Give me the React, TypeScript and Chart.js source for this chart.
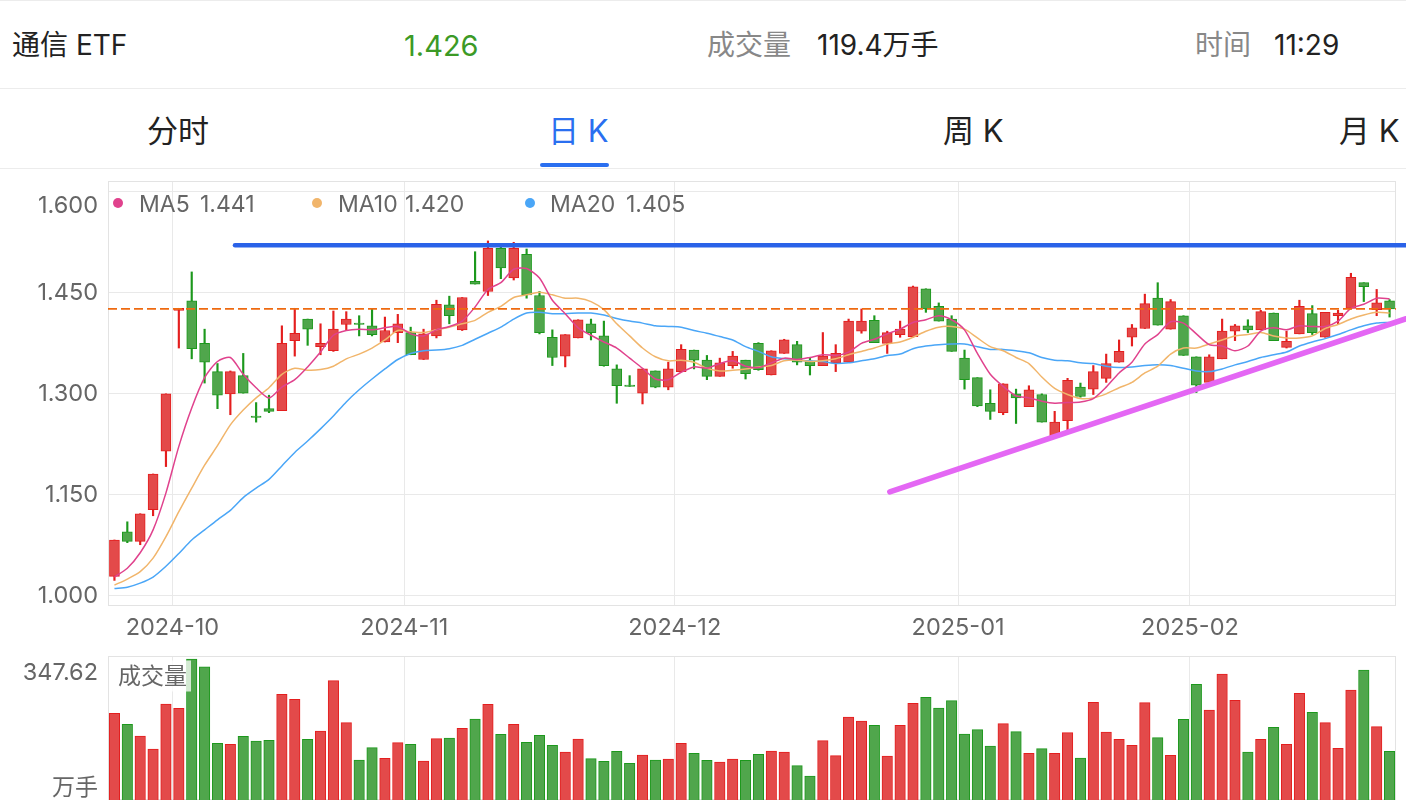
import React, { useEffect, useRef } from 'react';
import { Chart, registerables } from 'chart.js';

Chart.register(...registerables);

const FONT = 'Inter, "Noto Sans CJK SC", sans-serif';

const DATES = [
  '2024-09-24','2024-09-25','2024-09-26','2024-09-27','2024-09-30',
  '2024-10-08','2024-10-09','2024-10-10','2024-10-11','2024-10-14','2024-10-15','2024-10-16','2024-10-17','2024-10-18',
  '2024-10-21','2024-10-22','2024-10-23','2024-10-24','2024-10-25','2024-10-28','2024-10-29','2024-10-30','2024-10-31',
  '2024-11-01','2024-11-04','2024-11-05','2024-11-06','2024-11-07','2024-11-08','2024-11-11','2024-11-12','2024-11-13',
  '2024-11-14','2024-11-15','2024-11-18','2024-11-19','2024-11-20','2024-11-21','2024-11-22','2024-11-25','2024-11-26',
  '2024-11-27','2024-11-28','2024-11-29',
  '2024-12-02','2024-12-03','2024-12-04','2024-12-05','2024-12-06','2024-12-09','2024-12-10','2024-12-11','2024-12-12',
  '2024-12-13','2024-12-16','2024-12-17','2024-12-18','2024-12-19','2024-12-20','2024-12-23','2024-12-24','2024-12-25',
  '2024-12-26','2024-12-27','2024-12-30','2024-12-31',
  '2025-01-02','2025-01-03','2025-01-06','2025-01-07','2025-01-08','2025-01-09','2025-01-10','2025-01-13','2025-01-14',
  '2025-01-15','2025-01-16','2025-01-17','2025-01-20','2025-01-21','2025-01-22','2025-01-23','2025-01-24','2025-01-27',
  '2025-02-05','2025-02-06','2025-02-07','2025-02-10','2025-02-11','2025-02-12','2025-02-13','2025-02-14','2025-02-17',
  '2025-02-18','2025-02-19','2025-02-20','2025-02-21','2025-02-24','2025-02-25','2025-02-26',
];

const OPEN = [
  1.029,1.095,1.081,1.128,1.215,1.424,1.438,1.375,1.333,1.300,
  1.327,1.267,1.278,1.275,1.379,1.411,1.370,1.364,1.403,1.405,
  1.401,1.377,1.391,1.391,1.351,1.386,1.432,1.395,1.467,1.452,
  1.516,1.472,1.507,1.446,1.384,1.356,1.383,1.404,1.386,1.337,
  1.313,1.301,1.334,1.310,1.333,1.365,1.350,1.326,1.342,1.350,
  1.375,1.328,1.360,1.373,1.348,1.342,1.346,1.347,1.393,1.409,
  1.375,1.388,1.385,1.456,1.430,1.411,1.353,1.324,1.286,1.272,
  1.300,1.281,1.299,1.238,1.260,1.310,1.307,1.323,1.347,1.384,
  1.397,1.442,1.396,1.416,1.355,1.317,1.352,1.393,1.401,1.395,
  1.420,1.369,1.389,1.419,1.384,1.416,1.427,1.465,1.425,1.438,
];
const CLOSE = [
  1.083,1.081,1.122,1.181,1.300,1.427,1.367,1.347,1.298,1.333,
  1.301,1.265,1.274,1.375,1.390,1.396,1.375,1.396,1.411,1.403,
  1.388,1.394,1.404,1.358,1.389,1.433,1.416,1.443,1.463,1.516,
  1.487,1.516,1.447,1.391,1.354,1.388,1.410,1.391,1.342,1.312,
  1.311,1.337,1.310,1.337,1.366,1.350,1.326,1.346,1.356,1.330,
  1.336,1.364,1.380,1.347,1.342,1.356,1.360,1.408,1.408,1.376,
  1.391,1.396,1.459,1.426,1.408,1.363,1.321,1.282,1.274,1.315,
  1.294,1.306,1.258,1.258,1.320,1.296,1.333,1.345,1.363,1.398,
  1.434,1.402,1.437,1.357,1.313,1.355,1.393,1.401,1.395,1.422,
  1.379,1.378,1.430,1.391,1.421,1.420,1.473,1.459,1.435,1.426,
];
const HIGH = [
  1.083,1.110,1.122,1.181,1.300,1.427,1.481,1.396,1.345,1.334,
  1.360,1.287,1.298,1.401,1.427,1.411,1.404,1.423,1.422,1.416,
  1.426,1.414,1.418,1.399,1.396,1.439,1.445,1.443,1.511,1.527,
  1.518,1.525,1.515,1.452,1.395,1.388,1.410,1.411,1.408,1.343,
  1.327,1.337,1.334,1.347,1.373,1.365,1.357,1.353,1.363,1.350,
  1.376,1.364,1.381,1.378,1.353,1.391,1.373,1.411,1.426,1.416,
  1.393,1.408,1.460,1.456,1.435,1.416,1.365,1.324,1.306,1.315,
  1.307,1.312,1.300,1.274,1.323,1.316,1.342,1.359,1.380,1.403,
  1.448,1.465,1.440,1.416,1.355,1.358,1.411,1.403,1.410,1.424,
  1.420,1.393,1.439,1.431,1.421,1.424,1.479,1.465,1.455,1.440,
];
const LOW = [
  1.023,1.079,1.076,1.119,1.192,1.368,1.352,1.316,1.278,1.269,
  1.301,1.258,1.272,1.275,1.356,1.372,1.358,1.363,1.395,1.386,
  1.386,1.377,1.376,1.358,1.351,1.383,1.404,1.394,1.463,1.446,
  1.471,1.469,1.442,1.389,1.342,1.340,1.383,1.380,1.341,1.286,
  1.311,1.285,1.309,1.306,1.333,1.337,1.321,1.326,1.338,1.322,
  1.335,1.328,1.360,1.343,1.328,1.342,1.333,1.347,1.390,1.376,
  1.360,1.384,1.384,1.421,1.408,1.363,1.307,1.281,1.262,1.269,
  1.256,1.281,1.258,1.236,1.246,1.295,1.299,1.317,1.347,1.371,
  1.397,1.402,1.396,1.357,1.302,1.317,1.352,1.379,1.391,1.395,
  1.379,1.368,1.389,1.388,1.384,1.403,1.426,1.437,1.416,1.414,
];

const VOLUME = [
  213.7,186.5,157.8,125.7,236.6,226.0,347.62,328.6,139.7,137.2,
  156.9,145.4,147.0,260.5,248.1,149.5,170.1,294.2,190.6,98.6,
  129.0,102.7,141.3,137.2,96.1,151.2,152.8,176.7,199.7,235.8,
  161.9,186.5,142.1,159.4,134.8,118.3,150.4,101.9,95.3,120.0,
  90.4,110.9,98.6,101.1,139.7,115.0,97.8,93.7,101.1,97.8,
  112.6,120.8,118.3,84.6,59.2,146.3,109.3,204.6,194.7,184.1,
  108.5,184.1,238.3,253.1,226.8,244.9,162.7,173.4,133.1,188.2,
  168.4,115.0,126.5,115.0,166.0,103.5,240.7,167.6,149.5,134.8,
  239.9,153.7,110.1,198.9,285.1,221.9,310.6,245.7,118.3,149.5,
  179.1,137.2,262.9,216.1,190.6,127.3,271.2,320.5,180.8,120.0,
];

const MA5 = [
  1.028,1.041,1.064,1.098,1.153,1.222,1.279,1.324,1.348,1.354,
  1.329,1.309,1.294,1.310,1.321,1.340,1.362,1.387,1.394,1.396,
  1.395,1.398,1.400,1.389,1.386,1.395,1.400,1.408,1.429,1.455,
  1.465,1.485,1.486,1.472,1.439,1.419,1.398,1.387,1.377,1.368,
  1.353,1.338,1.322,1.321,1.332,1.340,1.338,1.345,1.349,1.341,
  1.339,1.346,1.353,1.351,1.354,1.358,1.357,1.362,1.375,1.381,
  1.389,1.396,1.406,1.410,1.416,1.410,1.395,1.360,1.329,1.311,
  1.297,1.294,1.289,1.286,1.287,1.288,1.293,1.310,1.331,1.347,
  1.374,1.388,1.407,1.405,1.389,1.373,1.371,1.364,1.371,1.393,
  1.398,1.395,1.401,1.400,1.400,1.408,1.427,1.433,1.442,1.441,
];
const MA10 = [
  1.016,1.025,1.036,1.056,1.088,1.125,1.160,1.194,1.223,1.254,
  1.276,1.294,1.309,1.329,1.338,1.335,1.336,1.341,1.352,1.359,
  1.368,1.380,1.394,1.392,1.391,1.395,1.399,1.404,1.409,1.421,
  1.430,1.443,1.447,1.451,1.447,1.442,1.442,1.437,1.425,1.404,
  1.386,1.368,1.355,1.349,1.350,1.347,1.338,1.334,1.335,1.337,
  1.340,1.342,1.349,1.350,1.348,1.349,1.352,1.358,1.363,1.368,
  1.374,1.377,1.384,1.393,1.399,1.400,1.396,1.383,1.370,1.364,
  1.354,1.345,1.325,1.308,1.299,1.293,1.294,1.300,1.309,1.317,
  1.331,1.341,1.359,1.368,1.368,1.374,1.380,1.386,1.388,1.391,
  1.386,1.383,1.383,1.386,1.397,1.403,1.411,1.417,1.421,1.420,
];
const MA20 = [
  1.011,1.013,1.019,1.028,1.044,1.063,1.083,1.098,1.113,1.127,
  1.146,1.160,1.173,1.193,1.213,1.230,1.248,1.267,1.288,1.306,
  1.322,1.337,1.351,1.360,1.364,1.365,1.367,1.372,1.381,1.390,
  1.399,1.411,1.420,1.421,1.419,1.419,1.420,1.420,1.417,1.412,
  1.408,1.405,1.401,1.400,1.399,1.394,1.390,1.385,1.380,1.370,
  1.363,1.355,1.352,1.350,1.349,1.348,1.345,1.346,1.349,1.352,
  1.357,1.359,1.367,1.371,1.373,1.374,1.374,1.370,1.366,1.366,
  1.364,1.361,1.354,1.350,1.349,1.346,1.345,1.341,1.339,1.340,
  1.342,1.343,1.342,1.338,1.334,1.333,1.337,1.343,1.348,1.354,
  1.358,1.362,1.371,1.377,1.382,1.388,1.395,1.401,1.405,1.406,
];

const PRICE_TICKS = [1.0, 1.15, 1.3, 1.45, 1.6];
const PRICE_MIN = 0.985;
const PRICE_MAX = 1.616;
const VOLUME_MAX = 355;
const LAST_PRICE = 1.426;
const RESISTANCE_LINE = [{ x: 9.36, y: 1.5205 }, { x: 112, y: 1.5205 }];
const TREND_LINE = [{ x: 60.2, y: 1.1545 }, { x: 112, y: 1.4867 }];

const UP_FILL = '#e34a4a';
const UP_LINE = '#e41e1e';
const DOWN_FILL = '#50a64c';
const DOWN_LINE = '#1c981c';
const GRID = '#e9e9e9';
const AXIS_FONT = 23.5;

const isUp = (i: number) => CLOSE[i] >= OPEN[i];
const MONTH_TICKS = DATES.map((d, i) => (i > 0 && d.slice(0, 7) !== DATES[i - 1].slice(0, 7) ? i - 0.5 : null)).filter(
  (v) => v !== null
) as number[];

const frame = {
  id: 'frame',
  beforeDatasetsDraw(chart: any) {
    const { ctx, chartArea: a } = chart;
    ctx.save();
    ctx.strokeStyle = '#e3e3e3';
    ctx.lineWidth = 1;
    ctx.strokeRect(Math.round(a.left) + 0.5, Math.round(a.top) + 0.5, Math.round(a.right - a.left) - 1, Math.round(a.bottom - a.top) - 1);
    ctx.restore();
  },
};

const noPad = (s: any) => {
  s.paddingTop = 0;
  s.paddingBottom = 0;
  s.paddingLeft = 0;
  s.paddingRight = 0;
};

const monthX = (withLabels: boolean) => ({
  type: 'linear' as const,
  min: -0.5,
  max: 99.5,
  offset: false,
  afterBuildTicks: (s: any) => {
    s.ticks = MONTH_TICKS.map((v) => ({ value: v }));
  },
  ticks: {
    display: withLabels,
    autoSkip: false,
    maxRotation: 0,
    padding: 8,
    color: '#666',
    font: { family: FONT, size: AXIS_FONT },
    callback: (v: any) => DATES[Math.round(Number(v) + 0.5)].slice(0, 7),
  },
  grid: { color: GRID, drawTicks: false, offset: false },
  border: { display: false },
  afterFit: (s: any) => {
    s.height = withLabels ? 39 : 0;
    noPad(s);
  },
});

const ma = (vals: number[], color: string) => ({
  type: 'line' as const,
  data: vals.map((y, x) => ({ x, y })),
  borderColor: color,
  borderWidth: 1.5,
  pointRadius: 0,
  tension: 0.25,
  order: -1,
});

export default function App() {
  const priceRef = useRef<HTMLCanvasElement>(null);
  const volRef = useRef<HTMLCanvasElement>(null);

  useEffect(() => {
    const price = new Chart(priceRef.current as HTMLCanvasElement, {
      type: 'bar',
      data: {
        datasets: [
          {
            type: 'line',
            data: RESISTANCE_LINE,
            borderColor: '#2a62e8',
            borderWidth: 4.5,
            borderCapStyle: 'round',
            pointRadius: 0,
            clip: false,
            order: -3,
          } as any,
          {
            type: 'line',
            data: TREND_LINE,
            borderColor: '#e467f4',
            borderWidth: 5.5,
            borderCapStyle: 'round',
            pointRadius: 0,
            clip: false,
            order: -3,
          } as any,
          {
            type: 'line',
            data: [{ x: -0.5, y: LAST_PRICE }, { x: 99.5, y: LAST_PRICE }],
            borderColor: '#ee6a10',
            borderWidth: 1.8,
            borderDash: [9, 4],
            pointRadius: 0,
            order: -2,
          } as any,
          ma(MA5, '#e0428d') as any,
          ma(MA10, '#f1b56b') as any,
          ma(MA20, '#4aa6f7') as any,
          {
            type: 'bar',
            data: OPEN.map((o, x) => ({ x, y: [o, CLOSE[x]] })),
            backgroundColor: OPEN.map((_, i) => (isUp(i) ? UP_FILL : DOWN_FILL)),
            borderColor: OPEN.map((_, i) => (isUp(i) ? UP_LINE : DOWN_LINE)),
            borderWidth: 1,
            borderSkipped: false,
            barThickness: 10,
            grouped: false,
            order: 1,
          } as any,
          {
            type: 'bar',
            data: LOW.map((l, x) => ({ x, y: [l, HIGH[x]] })),
            backgroundColor: OPEN.map((_, i) => (isUp(i) ? UP_LINE : DOWN_LINE)),
            borderWidth: 0,
            barThickness: 1.5,
            grouped: false,
            order: 2,
          } as any,
        ],
      },
      options: {
        responsive: false,
        devicePixelRatio: 1,
        animation: false,
        events: [],
        layout: { padding: { left: 0, right: 10, top: 11, bottom: 0 } },
        plugins: { legend: { display: false }, tooltip: { enabled: false } },
        scales: {
          x: monthX(true) as any,
          y: {
            type: 'linear',
            min: PRICE_MIN,
            max: PRICE_MAX,
            afterBuildTicks: (s: any) => {
              s.ticks = PRICE_TICKS.map((v) => ({ value: v }));
            },
            ticks: {
              padding: 10,
              color: '#666',
              font: { family: FONT, size: AXIS_FONT },
              callback: (v: any) => (Math.abs(Number(v) - 1.6) < 1e-6 ? '' : Number(v).toFixed(3)),
            },
            grid: { color: GRID, drawTicks: false },
            border: { display: false },
            afterFit: (s: any) => {
              s.width = 108;
              noPad(s);
            },
          },
        },
      },
      plugins: [frame],
    });

    const volume = new Chart(volRef.current as HTMLCanvasElement, {
      type: 'bar',
      data: {
        datasets: [
          {
            data: VOLUME.map((y, x) => ({ x, y })),
            backgroundColor: VOLUME.map((_, i) => (isUp(i) ? UP_FILL : DOWN_FILL)),
            borderColor: VOLUME.map((_, i) => (isUp(i) ? UP_LINE : DOWN_LINE)),
            borderWidth: 1,
            barThickness: 10.5,
            grouped: false,
          } as any,
        ],
      },
      options: {
        responsive: false,
        devicePixelRatio: 1,
        animation: false,
        events: [],
        layout: { padding: { left: 108, right: 10, top: 11, bottom: 8 } },
        plugins: { legend: { display: false }, tooltip: { enabled: false } },
        scales: {
          x: monthX(false) as any,
          y: { display: false, min: 0, max: VOLUME_MAX },
        },
      },
      plugins: [frame],
    });

    return () => {
      price.destroy();
      volume.destroy();
    };
  }, []);

  const txt = (
    content: string,
    x: number,
    y: number,
    size: number,
    color: string,
    alignRight = false,
    extra: React.CSSProperties = {}
  ) => (
    <span
      style={{
        position: 'absolute',
        left: alignRight ? undefined : x,
        right: alignRight ? 1406 - x : undefined,
        top: y,
        transform: 'translateY(-50%)',
        fontSize: size,
        lineHeight: 1,
        color,
        whiteSpace: 'nowrap',
        ...extra,
      }}
    >
      {content}
    </span>
  );

  const dot = (x: number, y: number, color: string) => (
    <span
      style={{
        position: 'absolute',
        left: x - 5,
        top: y - 5,
        width: 10,
        height: 10,
        borderRadius: '50%',
        background: color,
      }}
    />
  );

  return (
    <div
      style={{
        position: 'fixed',
        left: 0,
        top: 0,
        width: 1406,
        height: 808,
        background: '#fff',
        overflow: 'hidden',
        fontFamily: FONT,
      }}
    >
      <div style={{ position: 'absolute', left: 0, top: 0, width: 1406, height: 1, background: '#ececec' }} />
      {txt('通信 ETF', 12, 45, 28, '#222')}
      {txt('1.426', 404, 45, 29, '#3c9a26')}
      {txt('成交量', 707, 45, 28, '#888')}
      {txt('119.4万手', 817, 45, 28, '#222')}
      {txt('时间', 1195, 45, 28, '#888')}
      {txt('11:29', 1274, 45, 28, '#222')}
      <div style={{ position: 'absolute', left: 0, top: 88, width: 1406, height: 1, background: '#ececec' }} />
      {txt('分时', 147, 130, 31, '#222')}
      {txt('日 K', 548, 130, 31, '#2a6ff0')}
      {txt('周 K', 943, 130, 31, '#222')}
      {txt('月 K', 1339, 130, 31, '#222')}
      <div style={{ position: 'absolute', left: 540, top: 163, width: 69, height: 4, background: '#2a6ff0', borderRadius: 2 }} />
      <div style={{ position: 'absolute', left: 0, top: 168, width: 1406, height: 1, background: '#ececec' }} />

      <canvas ref={priceRef} width={1406} height={475} style={{ position: 'absolute', left: 0, top: 170 }} />
      <canvas ref={volRef} width={1406} height={163} style={{ position: 'absolute', left: 0, top: 645 }} />

      {txt('1.600', 98, 205, AXIS_FONT, '#666', true)}
      {dot(118, 203, '#e0428d')}
      {txt('MA5', 139, 204, 23, '#666')}
      {txt('1.441', 200, 204, 23, '#666')}
      {dot(317, 203, '#f1b56b')}
      {txt('MA10', 338, 204, 23, '#666')}
      {txt('1.420', 405, 204, 23, '#666')}
      {dot(530, 203, '#4aa6f7')}
      {txt('MA20', 550, 204, 23, '#666')}
      {txt('1.405', 626, 204, 23, '#666')}

      {txt('347.62', 98, 672, AXIS_FONT, '#666', true)}
      {txt('万手', 98, 787, 23, '#666', true)}
      {txt('成交量', 114, 676, 23, '#666', false, {
        background: 'rgba(255,255,255,0.75)',
        padding: '4px 4px',
      })}
    </div>
  );
}
